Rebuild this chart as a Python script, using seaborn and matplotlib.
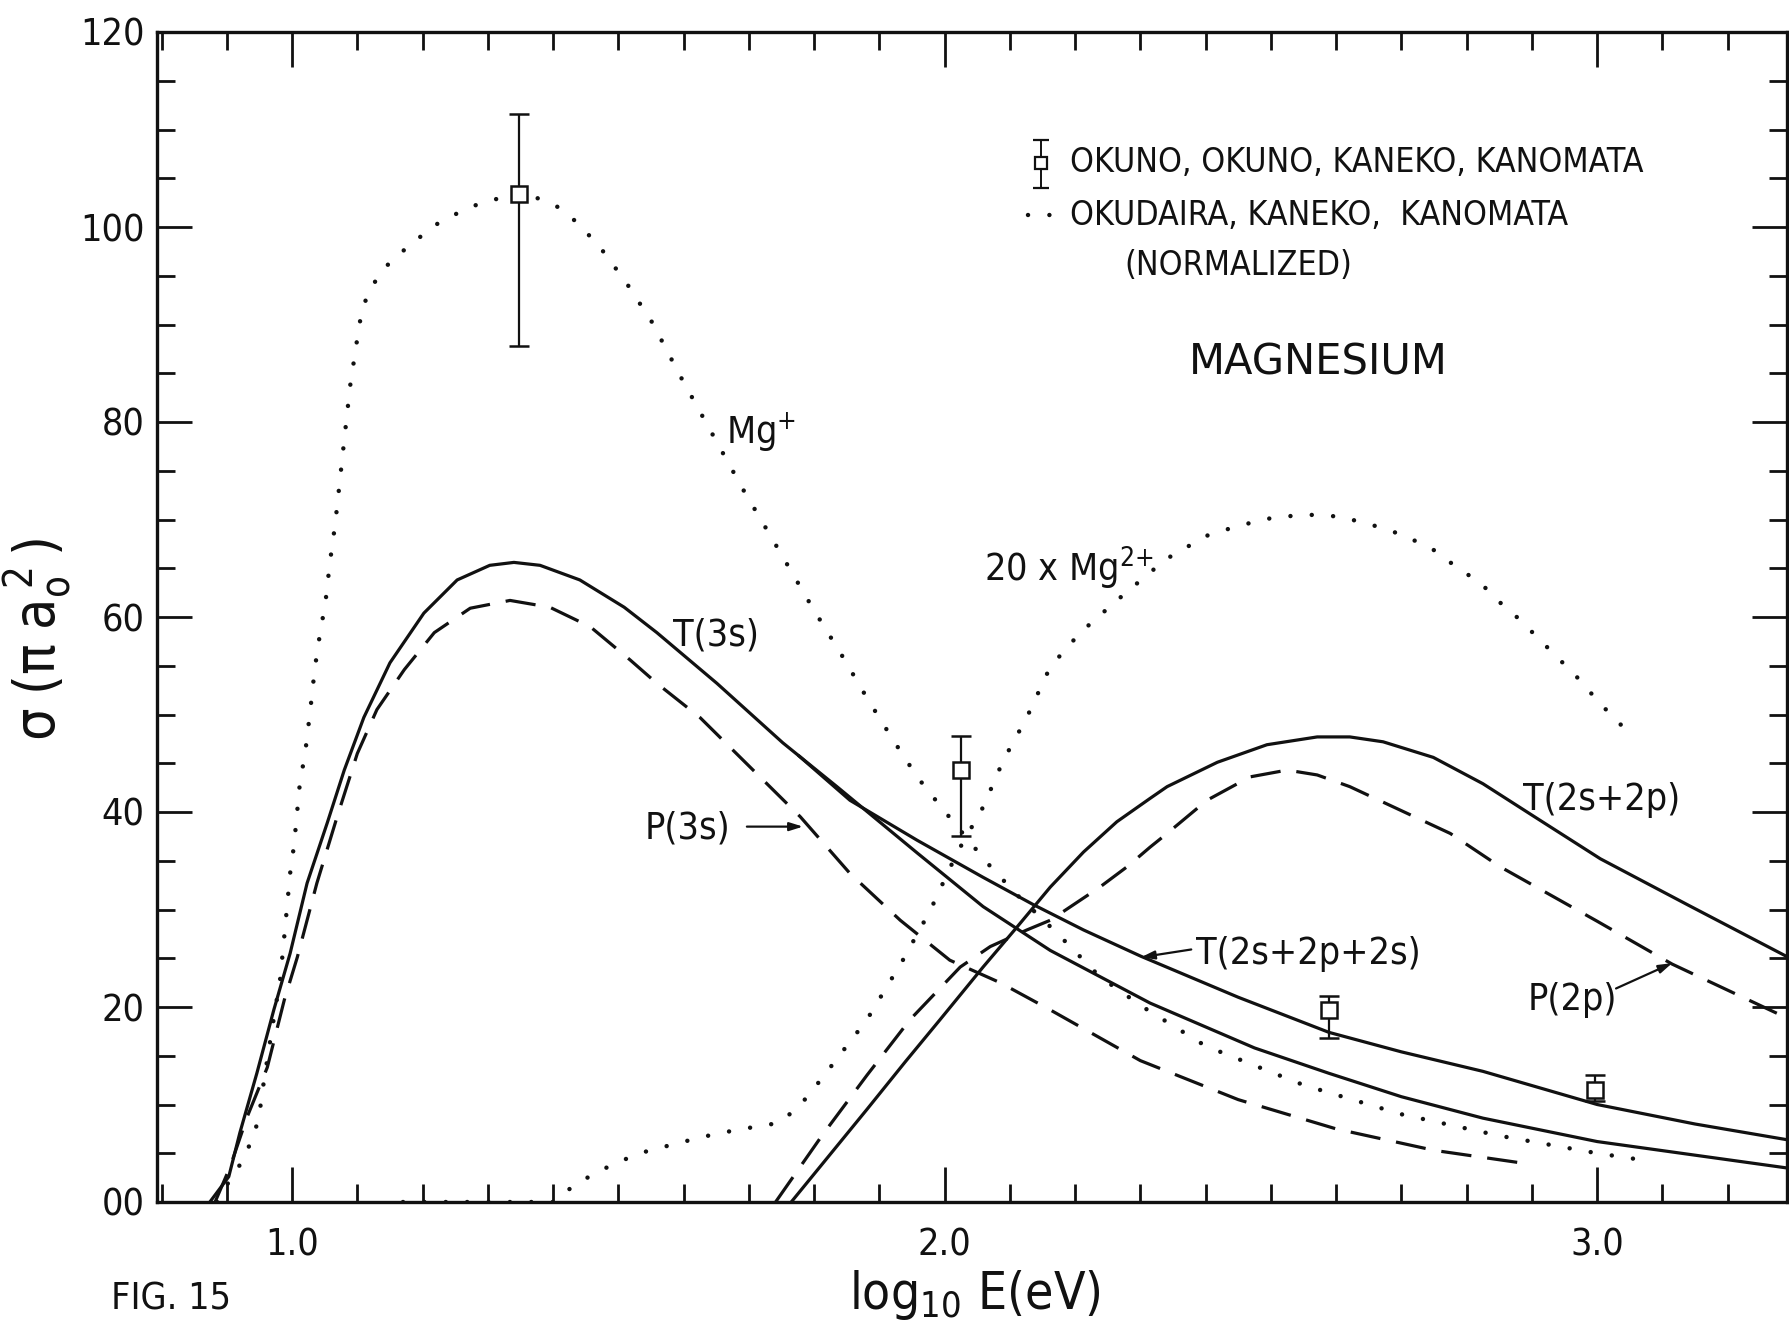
import numpy as np
import pandas as pd
import matplotlib
matplotlib.use("Agg")
import matplotlib.pyplot as plt
from matplotlib import font_manager as fm
from matplotlib.ticker import FixedLocator, MultipleLocator
import seaborn as sns

# ---- cross sections sigma (pi a0^2) vs log10 E(eV) ----
t3s_x = [0.874, 0.903, 0.920, 0.946, 0.972, 0.997, 1.023, 1.054, 1.080, 1.110, 1.150,
         1.202, 1.253, 1.303, 1.340, 1.380, 1.441, 1.509, 1.559, 1.651, 1.752, 1.835,
         1.958, 2.059, 2.162, 2.315, 2.475, 2.589, 2.700, 2.825, 3.000, 3.290]
t3s_y = [0.0, 2.6, 7.1, 13.2, 19.7, 25.5, 32.7, 38.9, 44.3, 49.7, 55.3,
         60.4, 63.8, 65.3, 65.6, 65.3, 63.8, 61.0, 58.4, 53.2, 47.1, 42.6,
         35.8, 30.3, 25.8, 20.4, 15.8, 13.2, 10.8, 8.6, 6.2, 3.5]

p3s_x = [0.882, 0.905, 0.931, 0.962, 0.988, 1.008, 1.038, 1.069, 1.100, 1.130, 1.172,
         1.218, 1.273, 1.334, 1.395, 1.457, 1.518, 1.559, 1.625, 1.702, 1.779, 1.855,
         1.932, 2.008, 2.085, 2.162, 2.300, 2.450, 2.600, 2.750, 2.895]
p3s_y = [0.0, 3.6, 8.7, 13.8, 20.7, 25.1, 32.7, 39.5, 46.0, 50.5, 54.6,
         58.4, 60.9, 61.7, 61.0, 59.0, 55.6, 53.2, 49.7, 44.6, 39.5, 33.7,
         28.9, 24.8, 22.5, 19.7, 14.5, 10.5, 7.5, 5.3, 3.9]

ttot_x = [1.776, 1.855, 1.958, 2.059, 2.136, 2.213, 2.301, 2.450, 2.589, 2.700,
          2.825, 3.000, 3.150, 3.290]
ttot_y = [45.8, 41.2, 37.1, 33.3, 30.5, 27.9, 25.2, 21.0, 17.4, 15.4,
          13.4, 10.0, 8.0, 6.4]

t2_x = [1.765, 1.881, 1.940, 1.993, 2.059, 2.111, 2.162, 2.213, 2.264, 2.315, 2.341,
        2.418, 2.494, 2.571, 2.621, 2.672, 2.749, 2.825, 2.902, 3.005, 3.141, 3.290]
t2_y = [0.0, 9.5, 14.4, 18.7, 24.1, 28.2, 32.3, 35.9, 39.0, 41.4, 42.6,
        45.1, 46.9, 47.7, 47.7, 47.2, 45.6, 42.9, 39.6, 35.2, 30.4, 25.2]

p2p_x = [1.741, 1.812, 1.881, 1.947, 2.024, 2.070, 2.126, 2.162, 2.238, 2.280, 2.315,
         2.341, 2.402, 2.468, 2.525, 2.571, 2.621, 2.698, 2.775, 2.851, 3.000, 3.115, 3.290]
p2p_y = [0.0, 6.8, 13.0, 18.7, 24.1, 26.2, 27.9, 28.9, 32.3, 34.4, 36.4,
         37.8, 41.2, 43.6, 44.3, 43.8, 42.6, 40.2, 37.8, 34.4, 28.8, 24.4, 18.9]

mgp_x = [0.885, 0.897, 0.913, 0.925, 0.939, 0.949, 0.957, 0.969, 0.982, 0.989, 0.997,
         1.003, 1.012, 1.020, 1.028, 1.035, 1.043, 1.051, 1.058, 1.066, 1.072, 1.080,
         1.089, 1.100, 1.107, 1.120, 1.143, 1.181, 1.222, 1.253, 1.287, 1.326, 1.350,
         1.371, 1.406, 1.440, 1.478, 1.513, 1.552, 1.595, 1.638, 1.691, 1.736, 1.798,
         1.845, 1.881, 1.921, 1.958, 1.996, 2.028, 2.065, 2.111, 2.172, 2.238, 2.304,
         2.400, 2.550, 2.700, 2.850, 3.000, 3.060]
mgp_y = [0.0, 1.5, 2.9, 4.5, 6.4, 8.6, 12.5, 17.6, 23.0, 27.9, 33.7,
         36.6, 43.0, 46.0, 50.5, 54.8, 58.4, 61.4, 65.6, 69.5, 73.2, 78.2,
         83.7, 88.6, 91.5, 93.7, 95.9, 98.2, 100.3, 101.4, 102.4, 103.1, 103.4,
         103.1, 102.1, 100.3, 97.4, 94.2, 90.2, 84.7, 79.5, 73.1, 68.0, 60.9,
         55.8, 51.7, 47.4, 43.6, 40.4, 37.8, 34.8, 31.5, 27.6, 23.1, 20.0,
         16.0, 12.0, 9.0, 6.8, 5.0, 4.4]

mg2_x = [1.170, 1.250, 1.300, 1.350, 1.400, 1.411, 1.429, 1.447, 1.467, 1.484, 1.501,
         1.518, 1.533, 1.549, 1.601, 1.650, 1.700, 1.745, 1.776, 1.811, 1.881, 1.936,
         1.978, 2.019, 2.059, 2.090, 2.126, 2.162, 2.208, 2.264, 2.310, 2.341, 2.372,
         2.404, 2.453, 2.504, 2.555, 2.606, 2.657, 2.703, 2.749, 2.785, 2.821, 2.851,
         2.882, 2.913, 2.943, 2.974, 3.002, 3.040]
mg2_y = [0.0, 0.0, 0.0, 0.0, 0.0, 0.7, 1.5, 2.3, 3.0, 3.6, 4.1,
         4.6, 5.0, 5.3, 6.2, 7.0, 7.6, 8.1, 9.7, 12.6, 18.7, 24.8,
         29.9, 35.8, 40.5, 45.3, 49.7, 54.9, 58.4, 61.7, 64.3, 66.0, 67.2,
         68.4, 69.4, 70.2, 70.5, 70.3, 69.4, 68.4, 66.9, 65.1, 63.5, 61.5,
         59.7, 57.6, 55.6, 53.5, 51.3, 48.7]

# measured points (Okuno et al.) with error bars
exp_x = [1.348, 2.025, 2.589, 2.997]
exp_y = [103.4, 44.3, 19.7, 11.5]
exp_lo = [87.8, 37.5, 16.8, 10.4]
exp_hi = [111.6, 47.8, 21.1, 13.0]

ytick_vals = [0, 20, 40, 60, 80, 100, 120]
ytick_text = ["00", "20", "40", "60", "80", "100", "120"]
xtick_vals = [1.0, 2.0, 3.0]
xtick_text = ["1.0", "2.0", "3.0"]

# ---- style ----
sns.set_style("ticks")
entries = fm.fontManager.ttflist
names = {f.name for f in entries}
dejavu_cond = any(f.name == "DejaVu Sans" and "ondensed" in str(f.fname) for f in entries)
if "Liberation Sans Narrow" in names:
    FAM, K = ["Liberation Sans Narrow", "DejaVu Sans"], 1.25
elif dejavu_cond:
    FAM, K = ["DejaVu Sans"], 1.08
    plt.rcParams["font.stretch"] = "condensed"
elif "Liberation Sans" in names:
    FAM, K = ["Liberation Sans", "DejaVu Sans"], 1.08
else:
    FAM, K = ["DejaVu Sans"], 1.0
plt.rcParams["font.family"] = FAM
INK = "#111111"
for key in ("text.color", "axes.labelcolor", "xtick.color", "ytick.color",
            "axes.edgecolor"):
    plt.rcParams[key] = INK

SOLID = dict(color=INK, lw=2.3, linestyle="-")
DASH = dict(color=INK, lw=2.3, linestyle=(0, (9.5, 5.0)))
DOT = dict(color=INK, lw=3.2, linestyle=(0, (0.01, 4.8)), dash_capstyle="round")

fig = plt.figure(figsize=(17.89, 13.32), dpi=100)
ax = fig.add_axes([157 / 1789, 1 - 1202 / 1332, (1787 - 157) / 1789, (1202 - 32) / 1332])


def curve(xs, ys, style):
    df = pd.DataFrame({"logE": xs, "sigma": ys})
    sns.lineplot(data=df, x="logE", y="sigma", sort=False, estimator=None,
                 ax=ax, legend=False, **style)


curve(mgp_x, mgp_y, DOT)
curve(mg2_x, mg2_y, DOT)
curve(t3s_x, t3s_y, SOLID)
curve(ttot_x, ttot_y, SOLID)
curve(t2_x, t2_y, SOLID)
curve(p3s_x, p3s_y, DASH)
curve(p2p_x, p2p_y, DASH)

yerr = [np.array(exp_y) - np.array(exp_lo), np.array(exp_hi) - np.array(exp_y)]
ax.errorbar(exp_x, exp_y, yerr=yerr, fmt="s", ms=11, mfc="white", mec=INK, mew=1.8,
            ecolor=INK, elinewidth=1.6, capsize=7, capthick=1.6, zorder=5)

# ---- axes ----
ax.set_xlim(0.793, 3.291)
ax.set_ylim(0, 120)
for sp in ax.spines.values():
    sp.set_visible(True)
    sp.set_linewidth(2.4)
    sp.set_color(INK)

TICK = 25 * K
ax.xaxis.set_major_locator(FixedLocator(xtick_vals))
ax.set_xticklabels(xtick_text)
ax.xaxis.set_minor_locator(MultipleLocator(0.1))
ax.yaxis.set_major_locator(FixedLocator(ytick_vals))
ax.set_yticklabels(ytick_text)
ax.yaxis.set_minor_locator(MultipleLocator(5))
ax.tick_params(which="both", direction="in", top=True, right=True, color=INK,
               labelcolor=INK)
ax.tick_params(which="major", length=25, width=2.0, labelsize=TICK)
ax.tick_params(which="minor", length=13, width=2.0)
ax.tick_params(axis="x", which="major", pad=18)
ax.tick_params(axis="y", which="major", pad=9)

ax.set_xlabel(r"$\mathregular{log_{10}\ E(eV)}$", fontsize=37)
ax.set_ylabel(r"$\mathregular{\sigma\;(\pi\;a_o^{\;2}\,)}$", fontsize=41)
ax.xaxis.set_label_coords(0.502, -0.056)
ax.yaxis.set_label_coords(-0.051, 0.481)

# ---- curve labels ----
LBL = 25 * K
KEY = 22.5 * K
ax.text(1.665, 77.8, r"$\mathregular{Mg^{+}}$", fontsize=LBL, va="baseline")
ax.text(2.061, 63.6, r"$\mathregular{20\ x\ Mg^{2{+}}}$", fontsize=LBL, va="baseline")
ax.text(1.584, 57.1, "T(3s)", fontsize=LBL, va="baseline")
ax.text(1.541, 37.3, "P(3s)", fontsize=LBL, va="baseline")
ax.text(2.385, 24.4, "T(2s+2p+2s)", fontsize=LBL, va="baseline")
ax.text(2.887, 40.2, "T(2s+2p)", fontsize=LBL, va="baseline")
ax.text(2.893, 19.7, "P(2p)", fontsize=LBL, va="baseline")

arrow = dict(arrowstyle="-|>,head_length=0.8,head_width=0.25", color=INK, lw=1.6,
             shrinkA=0, shrinkB=0)
ax.annotate("", xy=(1.783, 38.5), xytext=(1.697, 38.5), arrowprops=arrow)
ax.annotate("", xy=(2.301, 25.1), xytext=(2.378, 25.9), arrowprops=arrow)
ax.annotate("", xy=(3.115, 24.5), xytext=(3.029, 21.9), arrowprops=arrow)

# ---- key ----
ax.errorbar([2.148], [106.6], yerr=[[2.6], [2.3]], fmt="s", ms=9, mfc="white", mec=INK,
            mew=1.6, ecolor=INK, elinewidth=1.4, capsize=6, capthick=1.4, zorder=5)
ax.text(2.192, 106.6, "OKUNO, OKUNO, KANEKO, KANOMATA", fontsize=KEY, va="center")
ax.plot([2.128, 2.168], [101.2, 101.2], **DOT)
ax.text(2.192, 101.2, "OKUDAIRA, KANEKO,  KANOMATA", fontsize=KEY, va="center")
ax.text(2.275, 96.1, "(NORMALIZED)", fontsize=KEY, va="center")
ax.text(2.375, 86.1, "MAGNESIUM", fontsize=30, va="center", family="DejaVu Sans",
        stretch="normal")

fig.text(111 / 1789, 1 - 1300 / 1332, "FIG. 15", fontsize=27, va="center")

fig.savefig("out.png", dpi=100, facecolor="white")
